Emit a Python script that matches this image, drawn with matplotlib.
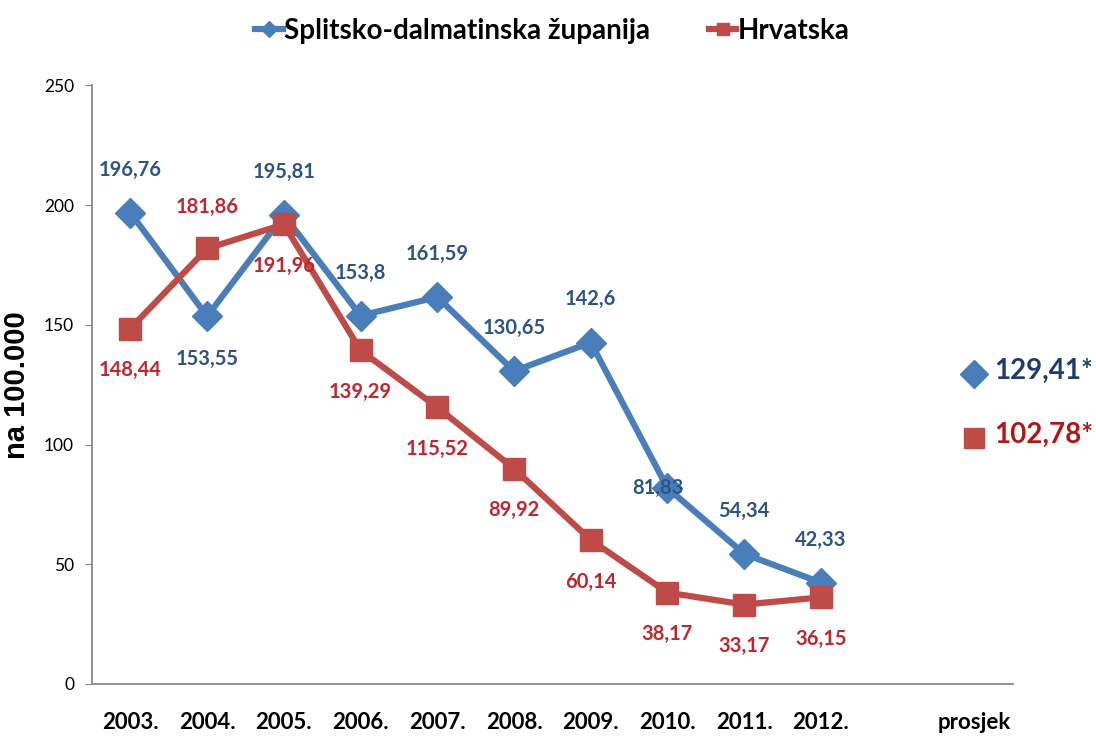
import matplotlib.pyplot as plt
import numpy as np

# data
godine = ['2003.', '2004.', '2005.', '2006.', '2007.', '2008.', '2009.', '2010.', '2011.', '2012.']
sdz = [196.76, 153.55, 195.81, 153.8, 161.59, 130.65, 142.6, 81.83, 54.34, 42.33]
hr = [148.44, 181.86, 191.96, 139.29, 115.52, 89.92, 60.14, 38.17, 33.17, 36.15]
prosjek_sdz = 129.41
prosjek_hr = 102.78

# label side: +1 above, -1 below, 0 on the point
pos_sdz = [1, -1, 1, 1, 1, 1, 1, 0, 1, 1]
pos_hr = [-1, 1, -1, -1, -1, -1, -1, -1, -1, -1]

plavo = '#4A7EBB'
crveno = '#BE4B48'
plavo_txt = '#2C5488'
crveno_txt = '#C0262D'
font = ['Lato', 'DejaVu Sans']

plt.rcParams['font.family'] = font

fig = plt.figure(figsize=(10.96, 7.4), dpi=100)
ax = fig.add_axes([0.084, 0.0757, 0.84, 0.809])

x = np.arange(len(godine))
x_pr = len(godine) + 1

ax.plot(x, sdz, color=plavo, lw=4.5, marker='D', ms=15, label='Splitsko-dalmatinska županija')
ax.plot(x, hr, color=crveno, lw=4.5, marker='s', ms=16, label='Hrvatska')

def fmt(v):
    return ('%g' % v).replace('.', ',')

for xi, v, p in zip(x, sdz, pos_sdz):
    if p == 0:
        off = (-7, 0)
    else:
        off = (0, 31 * p)
    ax.annotate(fmt(v), (xi, v), xytext=off, textcoords='offset points',
                ha='center', va='center', color=plavo_txt, fontsize=14.5, fontweight='bold')
for xi, v, p in zip(x, hr, pos_hr):
    ax.annotate(fmt(v), (xi, v), xytext=(0, 30 * p), textcoords='offset points',
                ha='center', va='center', color=crveno_txt, fontsize=14.5, fontweight='bold')

# prosjek
ax.plot([x_pr], [prosjek_sdz], marker='D', ms=14, color=plavo, ls='none')
ax.plot([x_pr], [prosjek_hr], marker='s', ms=15, color=crveno, ls='none')
ax.annotate(fmt(prosjek_sdz) + '*', (x_pr, prosjek_sdz), xytext=(14, 2), textcoords='offset points',
            ha='left', va='center', color='#1F3C70', fontsize=20, fontweight='bold')
ax.annotate(fmt(prosjek_hr) + '*', (x_pr, prosjek_hr), xytext=(14, 2), textcoords='offset points',
            ha='left', va='center', color='#B01818', fontsize=20, fontweight='bold')

ax.set_xlim(-0.5, x_pr + 0.5)
ax.set_ylim(0, 250)
ax.set_yticks(np.arange(0, 251, 50))
ax.set_xticks(list(x) + [x_pr])
ax.set_xticklabels(godine + ['prosjek'], fontsize=16, fontweight='bold')
ax.tick_params(axis='x', length=0, pad=20)
ax.tick_params(axis='y', length=5, color='#888888', labelsize=12.5, pad=8, direction='out')
for s in ['top', 'right']:
    ax.spines[s].set_visible(False)
for s in ['left', 'bottom']:
    ax.spines[s].set_color('#888888')
    ax.spines[s].set_linewidth(1.3)

ax.set_ylabel('na 100.000', fontsize=21, fontweight='bold', family=['Liberation Sans', 'DejaVu Sans'])
ax.yaxis.set_label_coords(-0.066, 0.5)

leg = ax.legend(loc='upper center', bbox_to_anchor=(0.5, 1.155), ncol=2, frameon=False,
                prop={'size': 20, 'weight': 'bold', 'family': font}, handlelength=1.0,
                columnspacing=2.1, markerscale=0.55, handletextpad=0.05)

fig.savefig('out.png', dpi=100)
